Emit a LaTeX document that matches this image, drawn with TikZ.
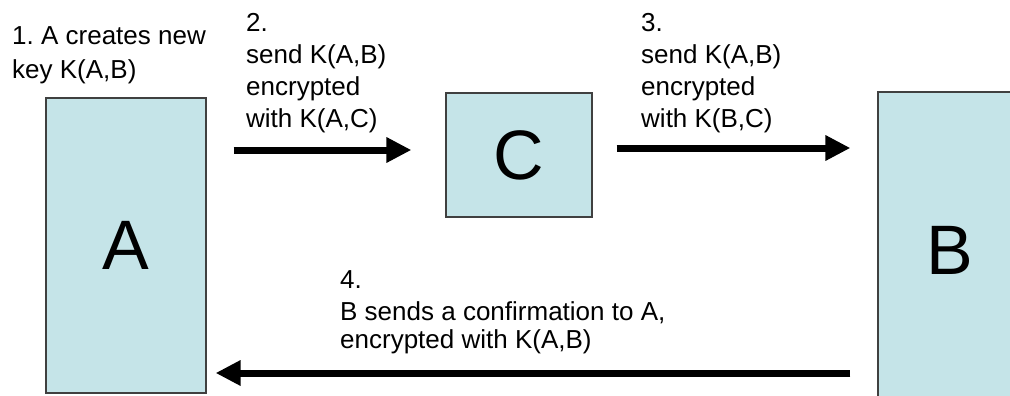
\documentclass[tikz,border=0pt]{standalone}
\usepackage{fontspec}
\setmainfont{Liberation Sans}
\frenchspacing
\usetikzlibrary{arrows.meta}
\definecolor{boxfill}{RGB}{197,228,232}
\definecolor{boxline}{RGB}{64,64,64}
\tikzset{
  party/.style={draw=boxline, line width=1.2pt, fill=boxfill, inner sep=0pt,
    font=\fontsize{70}{70}\selectfont},
  msg/.style={anchor=base west, align=left, inner sep=0pt,
    font=\fontsize{26}{32}\selectfont},
  arr/.style={line width=7pt, -{Triangle[length=25pt,width=24pt]}}
}
\begin{document}
\begin{tikzpicture}[x=1pt,y=-1pt]
  \useasboundingbox (0,0) rectangle (1010,396);
  \clip (0,0) rectangle (1010,396);

  % the three parties
  \node[party, minimum width=160pt, minimum height=295pt] (A) at (126,245.5) {A};
  \node[party, minimum width=146pt, minimum height=124pt] (C) at (519,155) {C};
  \node[party, minimum width=144pt, minimum height=316pt] (B) at (950,250) {B};

  % protocol steps (placed by the baseline of their last line)
  \node[msg] (s1) at (12,78) {1. A creates new\\[2pt]key K(A,B)};
  \node[msg] (s2) at (246,127) {2.\\send K(A,B)\\encrypted\\with K(A,C)};
  \node[msg] (s3) at (641,127) {3.\\send K(A,B)\\encrypted\\with K(B,C)};
  \node[msg] (s4) at (340,348) {4.\\B sends a confirmation to A,\\[-4pt]encrypted with K(A,B)};

  % messages
  \draw[arr] ([xshift=27pt,yshift=5pt]A.east |- C.west) -- ([xshift=-34pt,yshift=5pt]C.west);
  \draw[arr] ([xshift=24pt,yshift=7pt]C.east) -- ([xshift=-27pt,yshift=7pt]C.east -| B.west);
  \draw[arr] ([xshift=-27pt]B.west |- 0,373) -- ([xshift=9pt]A.east |- 0,373);
\end{tikzpicture}
\end{document}
